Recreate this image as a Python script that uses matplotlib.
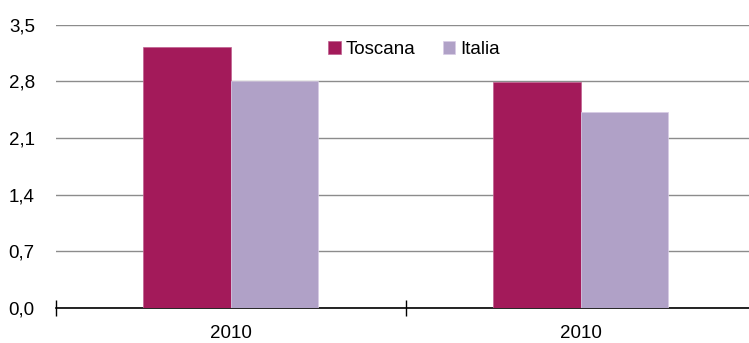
import matplotlib
matplotlib.use("Agg")
import matplotlib.pyplot as plt
import numpy as np
from matplotlib.ticker import FuncFormatter

# Data
categories = ["2010", "2010"]
series_names = ["Toscana", "Italia"]
toscana = [3.22, 2.79]
italia = [2.80, 2.42]
y_ticks = [0.0, 0.7, 1.4, 2.1, 2.8, 3.5]

colors = ["#A31A5A", "#B0A1C7"]

plt.rcParams["font.family"] = ["Liberation Sans", "DejaVu Sans"]
fs = 13.5

fig = plt.figure(figsize=(7.49, 3.43), dpi=100)
W, H = 749, 343
left_px, right_px = 55.7, 755.7
bottom_px, top_px = 308.0, 24.5
ax = fig.add_axes([left_px / W, 1 - bottom_px / H,
                   (right_px - left_px) / W, (bottom_px - top_px) / H])

x = np.arange(len(categories))
bw = 0.25
ax.bar(x - bw / 2, toscana, bw, color=colors[0], edgecolor="#c06090",
       linewidth=0.5, label=series_names[0], zorder=3)
ax.bar(x + bw / 2, italia, bw, color=colors[1], edgecolor="#d8cce6",
       linewidth=0.5, label=series_names[1], zorder=3)

ax.set_xlim(-0.5, len(categories) - 0.5)
ax.set_ylim(0, 3.5)
ax.set_yticks(y_ticks)
ax.yaxis.set_major_formatter(FuncFormatter(lambda v, p: f"{v:.1f}".replace(".", ",")))
ax.yaxis.grid(True, color="#8c8c8c", linewidth=1.0, zorder=0)
ax.tick_params(axis="y", length=0, pad=15, labelsize=fs)

ax.set_xticks(x)
ax.set_xticklabels(categories)
ax.set_xticks(np.arange(-0.5, len(categories)), minor=True)
ax.tick_params(axis="x", which="major", length=0, pad=12, labelsize=fs)
ax.tick_params(axis="x", which="minor", direction="inout", length=11, width=1, color="black")

for s in ["left", "right", "top"]:
    ax.spines[s].set_visible(False)
ax.spines["bottom"].set_color("black")
ax.spines["bottom"].set_linewidth(1.2)
ax.set_axisbelow(True)

leg = ax.legend(loc="center", bbox_to_anchor=(414 / W, 1 - 49.5 / H),
                bbox_transform=fig.transFigure, ncol=2, frameon=False,
                fontsize=fs, handlelength=0.65, handleheight=0.65,
                handletextpad=0.25, columnspacing=1.5, borderpad=0)

fig.savefig("out.png", dpi=100)
